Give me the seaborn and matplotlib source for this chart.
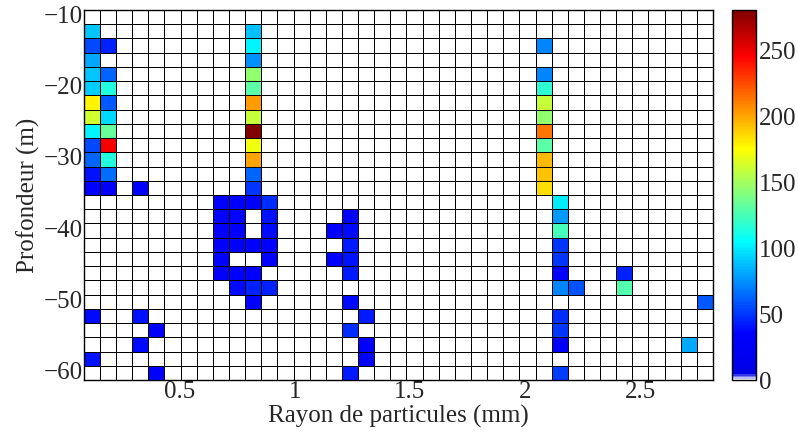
import matplotlib
matplotlib.use("Agg")
import matplotlib.pyplot as plt
from matplotlib.colors import LinearSegmentedColormap
import numpy as np
import pandas as pd
import seaborn as sns

# grille des classes (centres)
rayons = np.round(0.12 + 0.07 * np.arange(39), 2)      # mm
profondeurs = np.arange(-10, -62, -2)                    # m

# cellules non nulles : rayon (mm), profondeur (m), nombre
rayon = ([0.12] * 14 + [0.19] * 10 + [0.33] * 3 + [0.40] * 2 + [0.68] * 6 + [0.75] * 6
         + [0.82] * 17 + [0.89] * 6 + [1.17] * 2 + [1.24] * 8 + [1.31] * 3 + [2.08] * 10
         + [2.15] * 11 + [2.22] + [2.43] * 2 + [2.71] + [2.78])
profondeur = ([-12, -14, -16, -18, -20, -22, -24, -26, -28, -30, -32, -34, -52, -58]
              + [-14, -18, -20, -22, -24, -26, -28, -30, -32, -34]
              + [-34, -52, -56]
              + [-54, -60]
              + [-36, -38, -40, -42, -44, -46]
              + [-36, -38, -40, -42, -46, -48]
              + [-12, -14, -16, -18, -20, -22, -24, -26, -28, -30, -32, -34, -36, -42, -46, -48, -50]
              + [-36, -38, -40, -42, -44, -48]
              + [-40, -44]
              + [-38, -40, -42, -44, -46, -50, -54, -60]
              + [-52, -56, -58]
              + [-14, -18, -20, -22, -24, -26, -28, -30, -32, -34]
              + [-36, -38, -40, -42, -44, -46, -48, -52, -54, -56, -60]
              + [-48]
              + [-46, -48]
              + [-56]
              + [-50])
nombre = ([90, 55, 82, 90, 92, 178, 163, 103, 55, 63, 40, 30, 38, 40]
          + [45, 63, 115, 60, 95, 133, 248, 115, 65, 30]
          + [30, 40, 38]
          + [35, 35]
          + [33, 33, 35, 30, 33, 32]
          + [35, 36, 32, 30, 35, 38]
          + [88, 103, 75, 145, 130, 203, 160, 281, 172, 200, 63, 50, 30, 32, 35, 45, 35]
          + [48, 40, 38, 35, 33, 45]
          + [35, 35]
          + [35, 38, 42, 40, 42, 38, 48, 42]
          + [42, 35, 35]
          + [72, 72, 118, 160, 145, 213, 130, 195, 193, 185]
          + [100, 77, 125, 50, 50, 36, 72, 48, 50, 32, 52]
          + [58]
          + [45, 128]
          + [82]
          + [60])

xticks = [0.5, 1, 1.5, 2, 2.5]
yticks = [-10, -20, -30, -40, -50, -60]
cticks = [0, 50, 100, 150, 200, 250]

df = pd.DataFrame({"rayon": rayon, "profondeur": profondeur, "nombre": nombre})
grid = (df.pivot_table(index="profondeur", columns="rayon", values="nombre", aggfunc="sum")
          .reindex(index=profondeurs, columns=rayons).fillna(0))

# jet avec du blanc pour zero
cmap = LinearSegmentedColormap.from_list("jet_blanc", [
    (0.0, (1, 1, 1)), (0.015, (0, 0, 0.9)), (0.125, (0, 0, 1)), (0.375, (0, 1, 1)),
    (0.625, (1, 1, 0)), (0.875, (1, 0, 0)), (1.0, (0.5, 0, 0))], N=256)

sns.set_style("white")
plt.rcParams["font.family"] = ["Liberation Serif", "DejaVu Serif"]

fig = plt.figure(figsize=(7.98, 4.34), dpi=100)
ax = fig.add_axes([0.105, 0.1244, 0.7885, 0.8526])
cax = fig.add_axes([0.9173, 0.1244, 0.030, 0.8526])

sns.heatmap(grid, ax=ax, cbar_ax=cax, cmap=cmap, vmin=0, vmax=max(nombre),
            linewidths=0.5, linecolor="black", cbar_kws={"ticks": cticks})

ix = np.arange(len(rayons)) + 0.5
iy = np.arange(len(profondeurs)) + 0.5
ax.set_xticks(np.interp(xticks, rayons, ix))
ax.set_xticklabels([f"{t:g}" for t in xticks], rotation=0)
ax.set_yticks(np.interp(yticks, profondeurs[::-1], iy[::-1]))
ax.set_yticklabels([f"{t:g}".replace("-", "\u2212") for t in yticks], rotation=0)
ax.tick_params(labelsize=18, direction="in", length=0, pad=1)
ax.set_xlabel("Rayon de particules (mm)", fontsize=18, labelpad=1)
ax.set_ylabel("Profondeur (m)", fontsize=18, labelpad=2)
for s in ax.spines.values():
    s.set_visible(True)
    s.set_color("black")
    s.set_linewidth(1)

cax.tick_params(labelsize=18, direction="in", length=4, left=True, right=True, width=0.8, pad=2)
cax.set_yticklabels([str(t) for t in cticks])
cbar = ax.collections[0].colorbar
cbar.outline.set_edgecolor("black")
cbar.outline.set_linewidth(1)

fig.savefig("out.png", dpi=100)
